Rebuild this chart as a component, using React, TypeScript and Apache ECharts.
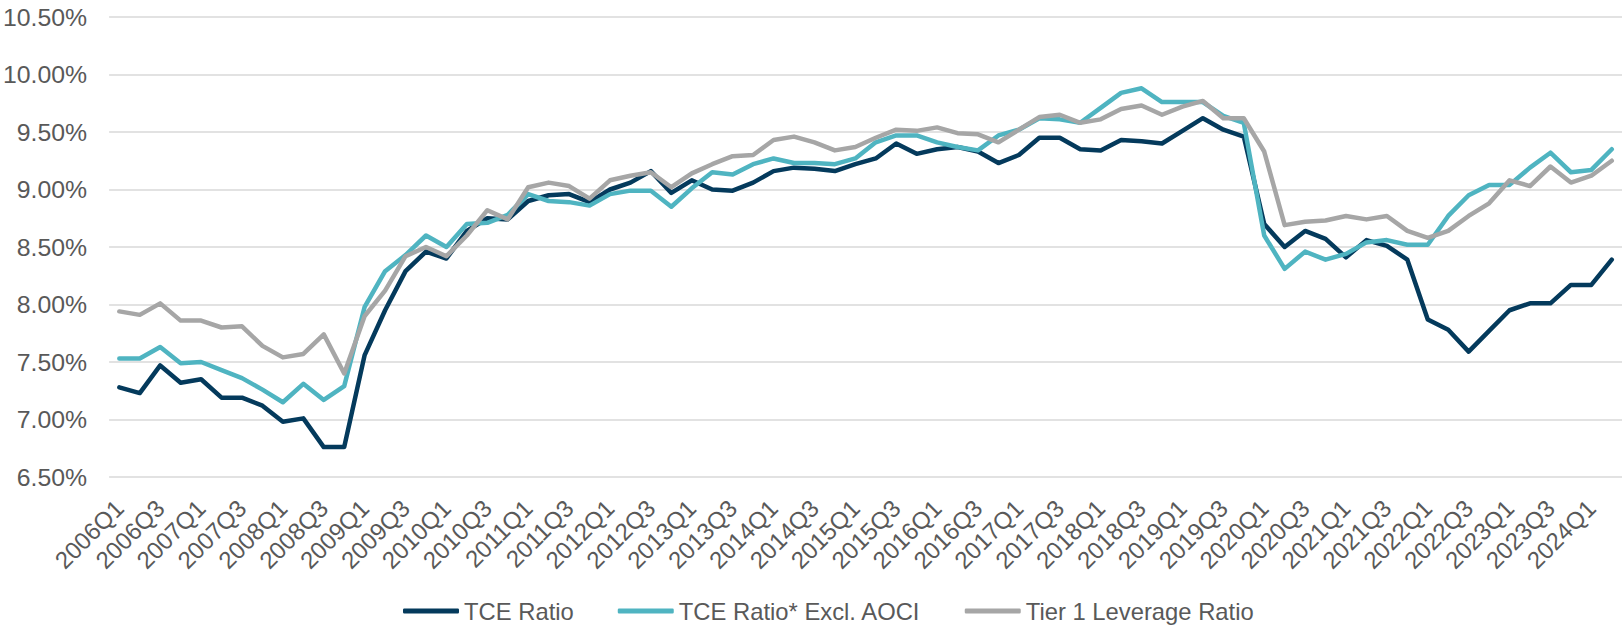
import React, { useEffect, useRef } from "react";
import * as echarts from "echarts";

const quarters: string[] = [
  "2006Q1","2006Q2","2006Q3","2006Q4","2007Q1","2007Q2","2007Q3","2007Q4",
  "2008Q1","2008Q2","2008Q3","2008Q4","2009Q1","2009Q2","2009Q3","2009Q4",
  "2010Q1","2010Q2","2010Q3","2010Q4","2011Q1","2011Q2","2011Q3","2011Q4",
  "2012Q1","2012Q2","2012Q3","2012Q4","2013Q1","2013Q2","2013Q3","2013Q4",
  "2014Q1","2014Q2","2014Q3","2014Q4","2015Q1","2015Q2","2015Q3","2015Q4",
  "2016Q1","2016Q2","2016Q3","2016Q4","2017Q1","2017Q2","2017Q3","2017Q4",
  "2018Q1","2018Q2","2018Q3","2018Q4","2019Q1","2019Q2","2019Q3","2019Q4",
  "2020Q1","2020Q2","2020Q3","2020Q4","2021Q1","2021Q2","2021Q3","2021Q4",
  "2022Q1","2022Q2","2022Q3","2022Q4","2023Q1","2023Q2","2023Q3","2023Q4",
  "2024Q1","2024Q2",
];

const tceRatio: number[] = [
  7.28, 7.23, 7.47, 7.32, 7.35, 7.19, 7.19, 7.12, 6.98, 7.01, 6.76, 6.76,
  7.56, 7.95, 8.29, 8.46, 8.40, 8.64, 8.75, 8.74, 8.90, 8.95, 8.96, 8.89,
  9.00, 9.06, 9.16, 8.97, 9.08, 9.00, 8.99, 9.06, 9.16, 9.19, 9.18, 9.16,
  9.22, 9.27, 9.40, 9.31, 9.35, 9.37, 9.33, 9.23, 9.30, 9.45, 9.45, 9.35,
  9.34, 9.43, 9.42, 9.40, 9.51, 9.62, 9.52, 9.46, 8.70, 8.50, 8.64, 8.57,
  8.41, 8.56, 8.51, 8.39, 7.87, 7.78, 7.59, 7.77, 7.95, 8.01, 8.01, 8.17,
  8.17, 8.39,
];

const tceExclAoci: number[] = [
  7.53, 7.53, 7.63, 7.49, 7.50, 7.43, 7.36, 7.26, 7.15, 7.31, 7.17, 7.29,
  7.98, 8.29, 8.43, 8.60, 8.50, 8.70, 8.71, 8.78, 8.96, 8.90, 8.89, 8.86,
  8.96, 8.99, 8.99, 8.85, 9.01, 9.15, 9.13, 9.22, 9.27, 9.23, 9.23, 9.22,
  9.27, 9.41, 9.47, 9.47, 9.41, 9.37, 9.34, 9.47, 9.52, 9.62, 9.61, 9.58,
  9.71, 9.84, 9.88, 9.76, 9.76, 9.76, 9.64, 9.58, 8.60, 8.31, 8.46, 8.39,
  8.44, 8.54, 8.56, 8.52, 8.52, 8.77, 8.95, 9.04, 9.04, 9.19, 9.32, 9.15,
  9.17, 9.35,
];

const tier1Leverage: number[] = [
  7.94, 7.91, 8.01, 7.86, 7.86, 7.80, 7.81, 7.64, 7.54, 7.57, 7.74, 7.40,
  7.90, 8.12, 8.42, 8.50, 8.42, 8.60, 8.82, 8.74, 9.02, 9.06, 9.03, 8.92,
  9.08, 9.12, 9.15, 9.02, 9.14, 9.22, 9.29, 9.30, 9.43, 9.46, 9.41, 9.34,
  9.37, 9.45, 9.52, 9.51, 9.54, 9.49, 9.48, 9.41, 9.52, 9.63, 9.65, 9.58,
  9.61, 9.70, 9.73, 9.65, 9.72, 9.77, 9.62, 9.62, 9.33, 8.69, 8.72, 8.73,
  8.77, 8.74, 8.77, 8.64, 8.58, 8.64, 8.77, 8.88, 9.08, 9.03, 9.20, 9.06,
  9.12, 9.25,
];

const seriesNames = ["TCE Ratio", "TCE Ratio* Excl. AOCI", "Tier 1 Leverage Ratio"];
const colors = ["#043A5C", "#4FB4C1", "#A6A6A6"];

export default function App() {
  const ref = useRef<HTMLDivElement>(null);
  useEffect(() => {
    if (!ref.current) return;
    const chart = echarts.init(ref.current, undefined, { renderer: "svg" });
    const font = "Liberation Sans, Arial, sans-serif";
    const dataSets = [tceRatio, tceExclAoci, tier1Leverage];
    chart.setOption({
      animation: false,
      backgroundColor: "#ffffff",
      grid: { left: 109, right: 1, top: 17, bottom: 148, containLabel: false },
      legend: {
        left: 398,
        top: 594,
        itemWidth: 56,
        itemHeight: 5,
        itemGap: 44,
        icon: "roundRect",
        textStyle: { color: "#595959", fontSize: 23.8, fontFamily: font },
        data: seriesNames,
      },
      xAxis: {
        type: "category",
        data: quarters,
        boundaryGap: true,
        axisLine: { show: false },
        axisTick: { show: false },
        axisLabel: {
          interval: 1,
          rotate: 45,
          margin: 27,
          color: "#595959",
          fontSize: 24,
          fontFamily: font,
        },
      },
      yAxis: {
        type: "value",
        min: 6.5,
        max: 10.5,
        interval: 0.5,
        axisLine: { show: false },
        axisTick: { show: false },
        axisLabel: {
          margin: 22,
          color: "#595959",
          fontSize: 24.8,
          fontFamily: font,
          formatter: (v: number) => v.toFixed(2) + "%",
        },
        splitLine: { lineStyle: { color: "#D9D9D9", width: 1.5 } },
      },
      series: seriesNames.map((name, k) => ({
        name,
        type: "line",
        data: dataSets[k],
        symbol: "none",
        showSymbol: false,
        itemStyle: { color: colors[k] },
        lineStyle: { color: colors[k], width: 4.5, join: "round", cap: "round" },
        z: 2 + k,
      })),
    });
    return () => chart.dispose();
  }, []);
  return (
    <div
      ref={ref}
      style={{ position: "fixed", left: 0, top: 0, width: 1623, height: 625, background: "#fff" }}
    />
  );
}
